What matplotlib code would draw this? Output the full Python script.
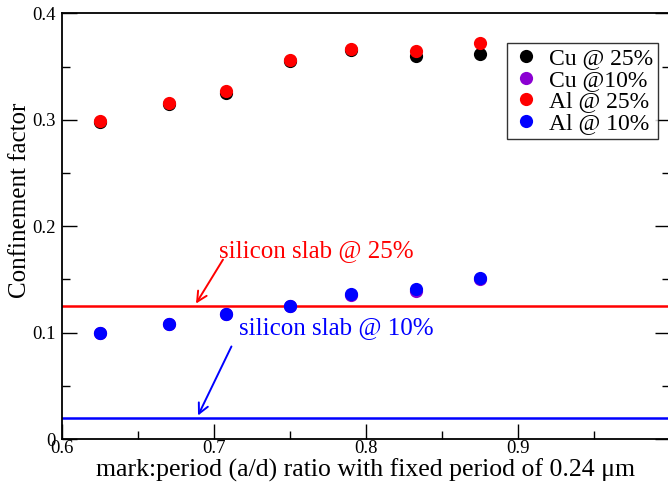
import matplotlib
matplotlib.use("Agg")
import matplotlib.pyplot as plt
from matplotlib.ticker import MultipleLocator

plt.rcParams['font.family'] = ['Liberation Serif', 'DejaVu Serif']

ratio = [0.625, 0.670, 0.708, 0.750, 0.790, 0.833, 0.875]
cu25 = [0.298, 0.315, 0.325, 0.355, 0.3655, 0.360, 0.3615]
cu10 = [0.100, 0.108, 0.117, 0.125, 0.135, 0.139, 0.150]
al25 = [0.299, 0.3155, 0.327, 0.356, 0.3665, 0.365, 0.372]
al10 = [0.100, 0.108, 0.117, 0.125, 0.136, 0.141, 0.151]
slab25 = 0.125
slab10 = 0.0197

fig = plt.figure(figsize=(6.68, 4.91), dpi=100)
ax = fig.add_axes([62.3/668, 52/491, (669.6-62.3)/668, (439-13.3)/491])

ms = 9.5
ax.plot(ratio, cu25, 'o', color='black', ms=ms, mec='none', label='Cu @ 25%', zorder=3)
ax.plot(ratio, cu10, 'o', color='#8b00d2', ms=ms, mec='none', label='Cu @10%', zorder=3)
ax.plot(ratio, al25, 'o', color='red', ms=ms, mec='none', label='Al @ 25%', zorder=4)
ax.plot(ratio, al10, 'o', color='blue', ms=ms, mec='none', label='Al @ 10%', zorder=4)

ax.axhline(slab25, color='red', lw=1.8, zorder=2)
ax.axhline(slab10, color='blue', lw=1.8, zorder=2)

ax.annotate('', xy=(0.6871, slab25), xytext=(0.7068, 0.1708),
            arrowprops=dict(arrowstyle='->', color='red', lw=1.4, mutation_scale=18))
ax.text(0.7035, 0.1665, 'silicon slab @ 25%', color='red', fontsize=18,
        va='bottom', ha='left')
ax.annotate('', xy=(0.6886, slab10), xytext=(0.7122, 0.0893),
            arrowprops=dict(arrowstyle='->', color='blue', lw=1.4, mutation_scale=18))
ax.text(0.7165, 0.0935, 'silicon slab @ 10%', color='blue', fontsize=18,
        va='bottom', ha='left')

ax.set_xlim(0.6, 1.0)
ax.set_ylim(0, 0.4)
ax.xaxis.set_minor_locator(MultipleLocator(0.05))
ax.yaxis.set_minor_locator(MultipleLocator(0.05))
ax.set_xticks([0.6, 0.7, 0.8, 0.9])
ax.set_xticklabels(['0.6', '0.7', '0.8', '0.9'])
ax.set_yticks([0, 0.1, 0.2, 0.3, 0.4])
ax.set_yticklabels(['0', '0.1', '0.2', '0.3', '0.4'])
ax.tick_params(which='major', direction='in', length=11, width=1, labelsize=13.5, right=True, top=False)
ax.tick_params(which='minor', direction='in', length=6, width=1, right=True, top=False)
ax.tick_params(axis='x', pad=1)
ax.tick_params(axis='y', pad=5)
for s in ax.spines.values():
    s.set_linewidth(1.3)

ax.set_xlabel('mark:period (a/d) ratio with fixed period of 0.24 μm', fontsize=18.5, labelpad=1)
ax.set_ylabel('Confinement factor', fontsize=18)
ax.yaxis.set_label_coords(-0.052, 0.56)

leg = ax.legend(loc='upper right', bbox_to_anchor=(658/668, (491-43)/491),
                bbox_transform=fig.transFigure, fontsize=17, frameon=True,
                fancybox=False, edgecolor='black', handletextpad=0.4,
                borderpad=0.2, labelspacing=0.0, handlelength=1.2, markerscale=1.0,
                borderaxespad=0)
leg.get_frame().set_linewidth(1.0)

fig.savefig('out.png', dpi=100)
